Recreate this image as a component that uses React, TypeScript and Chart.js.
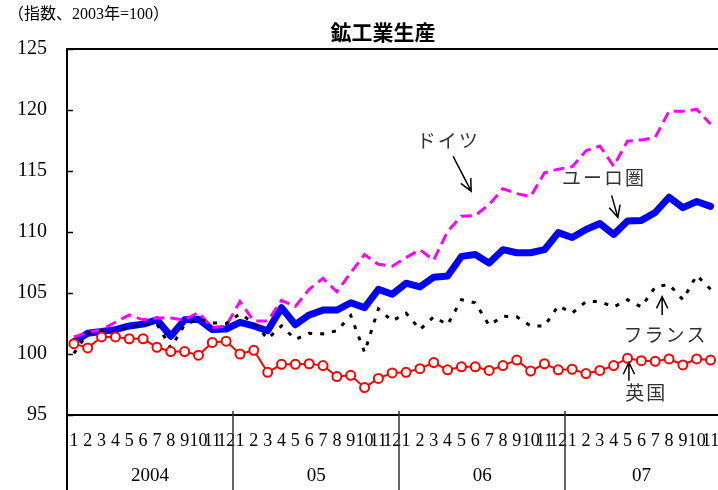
import React, { useEffect, useRef } from "react";
import { Chart, registerables } from "chart.js";

Chart.register(...registerables);

const TITLE = "鉱工業生産";
const UNIT = "（指数、2003年=100）";
const YEARS = ["2004", "05", "06", "07"];
const MONTHS = [
  "1", "2", "3", "4", "5", "6", "7", "8", "9", "10", "11", "12",
  "1", "2", "3", "4", "5", "6", "7", "8", "9", "10", "11", "12",
  "1", "2", "3", "4", "5", "6", "7", "8", "9", "10", "11", "12",
  "1", "2", "3", "4", "5", "6", "7", "8", "9", "10", "11",
];

const EURO = [
  101.0, 101.7, 101.85, 102.0, 102.3, 102.45, 102.8, 101.45, 102.8, 102.85, 102.0, 102.05,
  102.6, 102.3, 101.9, 103.8, 102.4, 103.2, 103.6, 103.6, 104.2, 103.8, 105.3, 104.9,
  105.8, 105.5, 106.3, 106.4, 108.0, 108.15, 107.45, 108.55, 108.3, 108.3, 108.55, 109.95,
  109.55, 110.2, 110.7, 109.8, 110.9, 110.95, 111.6, 112.85, 112.0, 112.5, 112.1,
];
const GERMANY = [
  101.4, 101.75, 102.0, 102.6, 103.2, 102.8, 102.95, 102.95, 102.8, 103.4, 102.15, 102.3,
  104.3, 102.7, 102.7, 104.4, 103.9, 105.3, 106.2, 105.1, 106.65, 108.15, 107.35, 107.2,
  107.9, 108.55, 107.7, 110.05, 111.3, 111.35, 112.25, 113.55, 113.15, 112.9, 114.85, 115.15,
  115.35, 116.65, 117.05, 115.4, 117.45, 117.55, 117.75, 119.9, 119.9, 120.05, 118.85,
];
const FRANCE = [
  100.05, 101.7, 101.95, 101.75, 102.25, 102.4, 102.45, 100.5, 102.4, 102.85, 102.55, 102.5,
  103.3, 102.55, 101.25, 102.3, 101.2, 101.7, 101.65, 101.9, 103.15, 100.15, 103.7, 102.7,
  103.35, 102.0, 103.05, 102.4, 104.45, 104.2, 102.35, 103.1, 103.05, 102.3, 102.3, 103.95,
  103.35, 104.3, 104.3, 103.85, 104.45, 103.85, 105.5, 105.7, 104.45, 106.45, 105.3,
];
const UK = [
  100.85, 100.5, 101.4, 101.4, 101.25, 101.25, 100.55, 100.2, 100.2, 99.9, 100.95, 101.05,
  100.0, 100.3, 98.5, 99.15, 99.15, 99.2, 99.05, 98.15, 98.25, 97.25, 98.0, 98.45,
  98.5, 98.8, 99.3, 98.7, 98.95, 98.95, 98.65, 99.05, 99.5, 98.6, 99.2, 98.7,
  98.75, 98.4, 98.65, 99.05, 99.65, 99.45, 99.4, 99.6, 99.1, 99.6, 99.5,
];

// annotation labels with arrows, in data coordinates (month index, index value)
const NOTES = [
  { text: "ドイツ", tx: 27.05, ty: 117.45, from: [27.4, 116.2], to: [28.7, 113.35] },
  { text: "ユーロ圏", tx: 38.3, ty: 114.45, from: [38.85, 113.0], to: [39.3, 111.2] },
  { text: "フランス", tx: 42.75, ty: 101.55, from: [42.5, 103.2], to: [42.5, 104.7] },
  { text: "英国", tx: 41.35, ty: 96.8, from: [40.1, 97.8], to: [40.1, 99.3] },
];

const SERIF = '"Liberation Serif", "DejaVu Serif", serif';
const JP = '"Noto Sans CJK JP", "Noto Sans", sans-serif';

const decorPlugin = {
  id: "decor",
  afterDraw(chart: any) {
    const { ctx, chartArea, scales } = chart;
    const x = scales.x;
    const y = scales.y;
    const W = chart.width;
    const H = chart.height;
    ctx.save();

    // title & unit
    ctx.fillStyle = "#000";
    ctx.textAlign = "center";
    ctx.textBaseline = "middle";
    ctx.font = `bold 21px ${JP}`;
    ctx.fillText(TITLE, 383, 32);
    ctx.textAlign = "left";
    ctx.font = `16px "Liberation Serif", "Noto Sans CJK JP"`;
    ctx.fillText(UNIT, 8, 15);

    // frame
    ctx.strokeStyle = "#000";
    ctx.lineWidth = 2;
    ctx.beginPath();
    ctx.moveTo(chartArea.left, H);
    ctx.lineTo(chartArea.left, chartArea.top);
    ctx.lineTo(W, chartArea.top);
    ctx.moveTo(chartArea.left, chartArea.bottom);
    ctx.lineTo(W, chartArea.bottom);
    ctx.stroke();

    // inward y ticks
    ctx.lineWidth = 1.5;
    ctx.beginPath();
    y.ticks.forEach((t: any) => {
      const py = Math.round(y.getPixelForValue(t.value)) + 0.5;
      ctx.moveTo(chartArea.left, py);
      ctx.lineTo(chartArea.left + 6, py);
    });
    ctx.stroke();

    // year separators and labels
    ctx.strokeStyle = "#333";
    ctx.lineWidth = 1.5;
    ctx.font = `19px ${SERIF}`;
    ctx.fillStyle = "#000";
    ctx.textAlign = "center";
    ctx.textBaseline = "middle";
    let start = 0;
    YEARS.forEach((yr, k) => {
      let end = start;
      while (end + 1 < MONTHS.length && MONTHS[end + 1] !== "1") end++;
      const cx = (x.getPixelForValue(start) + x.getPixelForValue(end)) / 2;
      ctx.fillText(yr, cx, 476);
      if (k > 0) {
        const sx = Math.round((x.getPixelForValue(start - 1) + x.getPixelForValue(start)) / 2);
        ctx.beginPath();
        ctx.moveTo(sx, chartArea.bottom - 4);
        ctx.lineTo(sx, H);
        ctx.stroke();
      }
      start = end + 1;
    });

    // annotations
    ctx.fillStyle = "#333";
    ctx.strokeStyle = "#000";
    ctx.lineWidth = 1.5;
    ctx.font = `19px ${JP}`;
    try { (ctx as any).letterSpacing = "2px"; } catch (e) {}
    NOTES.forEach((n) => {
      ctx.fillText(n.text, x.getPixelForValue(n.tx), y.getPixelForValue(n.ty));
      const x1 = x.getPixelForValue(n.from[0]);
      const y1 = y.getPixelForValue(n.from[1]);
      const x2 = x.getPixelForValue(n.to[0]);
      const y2 = y.getPixelForValue(n.to[1]);
      const ang = Math.atan2(y2 - y1, x2 - x1);
      const L = 13;
      const a = 0.45;
      ctx.beginPath();
      ctx.moveTo(x1, y1);
      ctx.lineTo(x2, y2);
      ctx.moveTo(x2 - L * Math.cos(ang - a), y2 - L * Math.sin(ang - a));
      ctx.lineTo(x2, y2);
      ctx.lineTo(x2 - L * Math.cos(ang + a), y2 - L * Math.sin(ang + a));
      ctx.stroke();
    });
    try { (ctx as any).letterSpacing = "0px"; } catch (e) {}
    ctx.restore();
  },
};

export default function App() {
  const ref = useRef<HTMLCanvasElement>(null);

  useEffect(() => {
    document.body.style.margin = "0";
    const canvas = ref.current;
    if (!canvas) return;
    const chart = new Chart(canvas, {
      type: "line",
      data: {
        labels: MONTHS,
        datasets: [
          {
            label: "英国",
            data: UK,
            borderColor: "#FF0000",
            borderWidth: 2,
            pointRadius: 4.5,
            pointBorderWidth: 2,
            pointBackgroundColor: "#FFFFFF",
            pointBorderColor: "#FF0000",
            order: 0,
          },
          {
            label: "フランス",
            data: FRANCE,
            borderColor: "#000000",
            borderWidth: 3,
            borderDash: [4, 8],
            pointRadius: 0,
            order: 1,
          },
          {
            label: "ドイツ",
            data: GERMANY,
            borderColor: "#FF00FF",
            borderWidth: 3,
            borderDash: [11, 6],
            pointRadius: 0,
            order: 2,
          },
          {
            label: "ユーロ圏",
            data: EURO,
            borderColor: "#0000FF",
            borderWidth: 7,
            borderJoinStyle: "round",
            borderCapStyle: "round",
            pointRadius: 0,
            order: 3,
          },
        ],
      },
      options: {
        responsive: false,
        animation: false,
        devicePixelRatio: 1,
        layout: { padding: { left: 0, right: 3.7, top: 49, bottom: 0 } },
        plugins: {
          legend: { display: false },
          tooltip: { enabled: false },
          title: { display: false },
        },
        scales: {
          x: {
            type: "category",
            offset: true,
            grid: { display: false, drawTicks: false },
            border: { display: false },
            ticks: {
              autoSkip: false,
              maxRotation: 0,
              minRotation: 0,
              color: "#000",
              padding: 15,
              font: { family: SERIF, size: 18 },
            },
            afterFit: (s: any) => {
              s.height = 75;
              s.paddingLeft = 0;
              s.paddingRight = 0;
            },
          },
          y: {
            min: 95,
            max: 125,
            grid: { display: false, drawTicks: false },
            border: { display: false },
            ticks: {
              stepSize: 5,
              color: "#000",
              padding: 20,
              font: { family: SERIF, size: 20 },
            },
            afterFit: (s: any) => {
              s.width = 67;
            },
          },
        },
      } as any,
      plugins: [decorPlugin],
    });
    return () => chart.destroy();
  }, []);

  return (
    <div style={{ width: 718, height: 490, overflow: "hidden", position: "relative", background: "#fff" }}>
      <canvas ref={ref} width={724} height={490} style={{ display: "block" }} />
    </div>
  );
}
